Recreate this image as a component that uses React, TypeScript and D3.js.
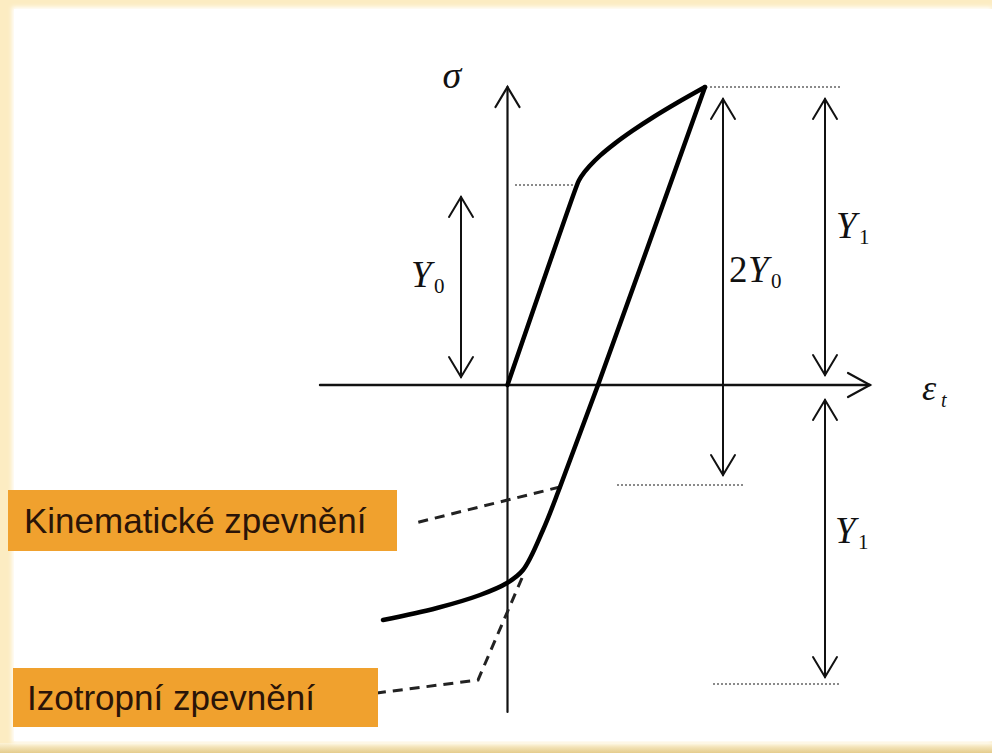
import React from "react";
import * as d3 from "d3";

type Pt = { eps: number; sigma: number };

// Stress–strain path (ε in diagram units, σ in units of Y0)
const elasticLoading: Pt[] = [
  { eps: 0, sigma: 0 },
  { eps: 0.695, sigma: 1.0 },
];
const hardening: Pt[] = [
  { eps: 0.714, sigma: 1.022 },
  { eps: 0.741, sigma: 1.045 },
  { eps: 0.821, sigma: 1.0945 },
  { eps: 0.931, sigma: 1.149 },
  { eps: 1.075, sigma: 1.208 },
  { eps: 1.251, sigma: 1.2715 },
  { eps: 1.46, sigma: 1.34 },
  { eps: 1.701, sigma: 1.4125 },
  { eps: 1.975, sigma: 1.49 },
];
const elasticUnloading: Pt[] = [
  { eps: 1.975, sigma: 1.49 },
  { eps: 0.905, sigma: 0 },
  { eps: 0.525, sigma: -0.51 },
];
const reverseYield: Pt[] = [
  { eps: 0.355, sigma: -0.725 },
  { eps: 0.155, sigma: -0.925 },
  { eps: -0.005, sigma: -0.99 },
  { eps: -0.275, sigma: -1.05 },
  { eps: -0.705, sigma: -1.115 },
  { eps: -1.245, sigma: -1.175 },
];
// Hardening model branches (dashed)
const kinematicBranch: Pt[] = [
  { eps: 0.525, sigma: -0.51 },
  { eps: -0.925, sigma: -0.69 },
];
const isotropicBranch: Pt[] = [
  { eps: 0.145, sigma: -0.965 },
  { eps: -0.295, sigma: -1.475 },
  { eps: -1.305, sigma: -1.54 },
];

// Dotted reference levels: [σ, ε from, ε to]
const guideLevels: [number, number, number][] = [
  [1.0, 0.075, 0.695],
  [1.49, 2.025, 3.325],
  [-0.5, 1.095, 2.355],
  [-1.495, 2.055, 3.325],
];

// Double-headed dimension arrows: ε position, σ top, σ bottom
const dimArrows = [
  { name: "Y0", eps: -0.465, top: 0.94, bottom: 0.04 },
  { name: "2Y0", eps: 2.155, top: 1.43, bottom: -0.45 },
  { name: "Y1a", eps: 3.175, top: 1.43, bottom: 0.05 },
  { name: "Y1b", eps: 3.175, top: -0.075, bottom: -1.46 },
];

const epsAxis: [number, number] = [-1.875, 3.625];
const sigmaAxis: [number, number] = [-1.635, 1.49];

const legendLabels = ["Kinematické zpevnění", "Izotropní zpevnění"];

const W = 992;
const H = 753;

export default function App() {
  const x = d3.scaleLinear().domain([0, 1]).range([507.5, 607.5]);
  const y = d3.scaleLinear().domain([0, 1]).range([385, 185]);

  const straight = d3
    .line<Pt>()
    .x((d) => x(d.eps))
    .y((d) => y(d.sigma));
  const smooth = d3
    .line<Pt>()
    .x((d) => x(d.eps))
    .y((d) => y(d.sigma))
    .curve(d3.curveCatmullRom.alpha(0.5));

  const x0 = x(0);
  const y0 = y(0);

  const vHead = (px: number, py: number, dir: 1 | -1) =>
    `M${px - 12},${py + dir * 20}L${px},${py}L${px + 12},${py + dir * 20}`;

  const serif = "'Liberation Serif', 'Times New Roman', serif";
  const sans = "'Liberation Sans', Arial, sans-serif";

  // italic Y followed by an upright subscript
  const yLabel = (key: string, lx: number, ly: number, sub: string, prefix = "") => {
    const pre = prefix ? 19 : 0;
    return (
      <g key={key}>
        {prefix && (
          <text x={lx} y={ly} fontSize={37}>
            {prefix}
          </text>
        )}
        <text x={lx + pre} y={ly} fontSize={37} fontStyle="italic">
          Y
        </text>
        <text x={lx + pre + 23} y={ly + 6} fontSize={21}>
          {sub}
        </text>
      </g>
    );
  };

  return (
    <svg
      width={W}
      height={H}
      style={{ position: "absolute", left: 0, top: 0, display: "block" }}
    >
      <defs>
        <linearGradient id="bottomBand" x1="0" y1="0" x2="0" y2="1">
          <stop offset="0" stopColor="#fdf3d6" />
          <stop offset="1" stopColor="#e4cc8c" />
        </linearGradient>
        <filter id="soft" x="-5%" y="-5%" width="110%" height="110%">
          <feGaussianBlur stdDeviation="2" />
        </filter>
      </defs>

      {/* frame */}
      <rect x={0} y={0} width={W} height={H} fill="#fcecc2" />
      <rect x={0} y={743} width={W} height={10} fill="url(#bottomBand)" />
      <rect x={12} y={7} width={W - 12} height={736} fill="#ffffff" filter="url(#soft)" />
      <rect x={14} y={9} width={W - 14} height={732} fill="#ffffff" />

      {/* axes */}
      <g stroke="#111" fill="none" strokeLinecap="round">
        <line x1={x(epsAxis[0])} y1={y0} x2={x(epsAxis[1])} y2={y0} strokeWidth={2.4} />
        <path
          d={`M${x(epsAxis[1]) - 22},${y0 - 12}L${x(epsAxis[1])},${y0}L${x(epsAxis[1]) - 22},${y0 + 12}`}
          strokeWidth={2.2}
        />
        <line x1={x0} y1={y(sigmaAxis[0])} x2={x0} y2={y(sigmaAxis[1])} strokeWidth={2.2} />
        <path d={vHead(x0, y(sigmaAxis[1]), 1)} strokeWidth={2.2} />
      </g>

      {/* dotted reference levels */}
      <g stroke="#8a8a8a" strokeWidth={2} strokeDasharray="2 2" fill="none">
        {guideLevels.map(([s, e1, e2], i) => (
          <line key={i} x1={x(e1)} y1={y(s)} x2={x(e2)} y2={y(s)} />
        ))}
      </g>

      {/* dimension arrows */}
      <g stroke="#111" strokeWidth={2} fill="none" strokeLinecap="round">
        {dimArrows.map((a) => (
          <g key={a.name}>
            <line x1={x(a.eps)} y1={y(a.top)} x2={x(a.eps)} y2={y(a.bottom)} />
            <path d={vHead(x(a.eps), y(a.top), 1)} />
            <path d={vHead(x(a.eps), y(a.bottom), -1)} />
          </g>
        ))}
      </g>

      {/* hardening branches */}
      <g stroke="#222" strokeWidth={3} strokeDasharray="10 7" fill="none">
        <path d={straight(kinematicBranch) ?? ""} />
        <path d={straight(isotropicBranch) ?? ""} />
      </g>

      {/* stress–strain curve: loading with hardening, then unloading into reverse yield */}
      <g stroke="#000" strokeWidth={4.5} fill="none" strokeLinecap="round" strokeLinejoin="round">
        <path d={smooth([...elasticLoading, ...hardening]) ?? ""} />
        <path d={smooth([...elasticUnloading, ...reverseYield]) ?? ""} />
      </g>

      {/* symbols */}
      <g fontFamily={serif} fill="#111">
        <text x={x0 - 65} y={88} fontSize={38} fontStyle="italic">σ</text>
        <text x={922} y={400} fontSize={36} fontStyle="italic">ε</text>
        <text x={941} y={407} fontSize={20} fontStyle="italic">t</text>
        {yLabel("y0", x(dimArrows[0].eps) - 50, 287, "0")}
        {yLabel("2y0", x(dimArrows[1].eps) + 6, 282, "0", "2")}
        {yLabel("y1a", x(dimArrows[2].eps) + 11, 238, "1")}
        {yLabel("y1b", x(dimArrows[3].eps) + 10, 543, "1")}
      </g>

      {/* model labels */}
      <rect x={8} y={490} width={389} height={61} fill="#f0a12e" />
      <text x={24} y={533} fontFamily={sans} fontSize={35} fill="#2a1408">
        {legendLabels[0]}
      </text>
      <rect x={13} y={668} width={365} height={59} fill="#f0a12e" />
      <text x={27} y={710} fontFamily={sans} fontSize={35} fill="#2a1408">
        {legendLabels[1]}
      </text>
    </svg>
  );
}
